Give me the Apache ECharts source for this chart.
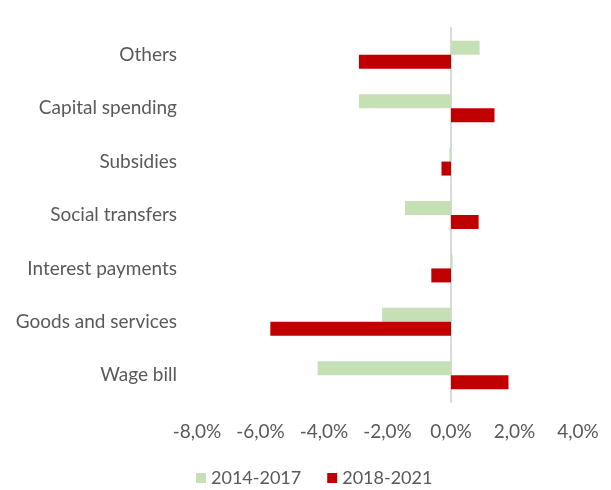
<!DOCTYPE html>
<html>
<head>
<meta charset="utf-8">
<script src="https://cdn.jsdelivr.net/npm/echarts@6/dist/echarts.min.js"></script>
<style>
  html, body { margin: 0; padding: 0; background: #fff; }
  #chart { width: 611px; height: 490px; }
</style>
</head>
<body>
<div id="chart"></div>
<script>
// Spending categories, listed bottom to top
const categories = ['Wage bill', 'Goods and services', 'Interest payments', 'Social transfers', 'Subsidies', 'Capital spending', 'Others'];
// Change in each spending item, percent
const period1Name = '2014-2017';
const period1 = [-4.2, -2.17, 0.05, -1.45, -0.05, -2.9, 0.9];
const period2Name = '2018-2021';
const period2 = [1.81, -5.69, -0.62, 0.87, -0.3, 1.37, -2.9];

const fontFamily = 'Lato, "Open Sans", sans-serif';
const textColor = '#595959';

const chart = echarts.init(document.getElementById('chart'), null, { renderer: 'canvas' });
chart.setOption({
  animation: false,
  backgroundColor: '#ffffff',
  grid: { left: 197, right: 33, top: 28, bottom: 88, containLabel: false },
  legend: {
    bottom: 3,
    left: 196,
    padding: [0, 0],
    itemWidth: 10,
    itemHeight: 10,
    itemGap: 26,
    icon: 'rect',
    textStyle: { color: textColor, fontSize: 18, fontFamily: fontFamily },
    data: [period1Name, period2Name]
  },
  xAxis: {
    type: 'value',
    min: -8,
    max: 4,
    interval: 2,
    axisLine: { show: false },
    axisTick: { show: false },
    splitLine: { show: false },
    axisLabel: {
      color: textColor,
      fontSize: 19,
      fontFamily: fontFamily,
      margin: 20,
      formatter: v => v.toFixed(1).replace('.', ',') + '%'
    }
  },
  yAxis: {
    type: 'category',
    data: categories,
    axisLine: { show: true, onZero: true, lineStyle: { color: '#d9d9d9', width: 2 } },
    axisTick: { show: false },
    axisLabel: {
      color: textColor,
      fontSize: 19,
      fontFamily: fontFamily,
      margin: 20
    }
  },
  series: [
    {
      name: period1Name,
      type: 'bar',
      data: period1,
      barWidth: 14,
      barGap: '0%',
      itemStyle: { color: '#c5e0b4' }
    },
    {
      name: period2Name,
      type: 'bar',
      data: period2,
      barWidth: 14,
      barGap: '0%',
      itemStyle: { color: '#c00000' }
    }
  ]
});
</script>
</body>
</html>
